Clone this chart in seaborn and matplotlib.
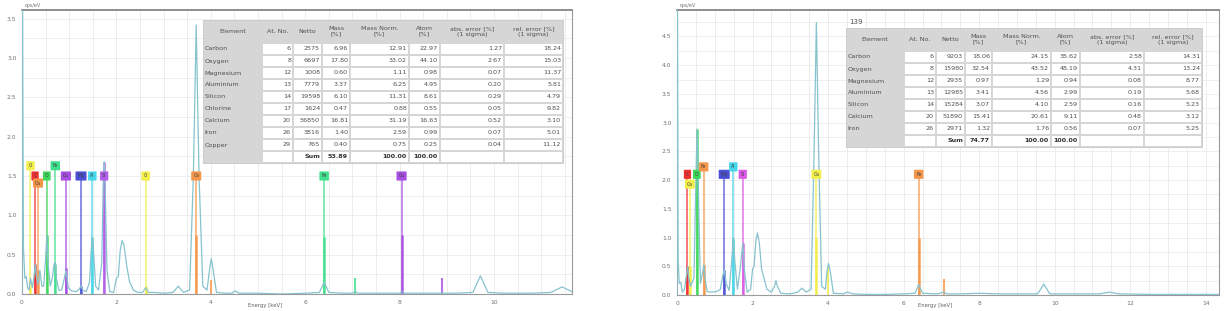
import matplotlib
matplotlib.use("Agg")
import matplotlib.pyplot as plt
import seaborn as sns
from matplotlib.patches import Rectangle
from matplotlib.ticker import MultipleLocator

# ---- spectrum 1 (left) ----
energy_left = [0, 0.01, 0.03, 0.06, 0.09, 0.12, 0.15, 0.18, 0.22, 0.26, 0.28, 0.30, 0.34, 0.38,
               0.42, 0.46, 0.50, 0.525, 0.55, 0.60, 0.64, 0.68, 0.705, 0.73, 0.78, 0.84, 0.88,
               0.93, 0.98, 1.05, 1.15, 1.21, 1.25, 1.29, 1.36, 1.43, 1.47, 1.49, 1.51, 1.56,
               1.62, 1.69, 1.72, 1.74, 1.76, 1.80, 1.86, 1.94, 2.00, 2.04, 2.08, 2.12, 2.16,
               2.22, 2.28, 2.36, 2.45, 2.55, 2.62, 2.68, 2.8, 3.0, 3.2, 3.31, 3.42, 3.55, 3.63,
               3.69, 3.75, 3.83, 3.92, 3.97, 4.01, 4.05, 4.12, 4.3, 4.45, 4.51, 4.6, 5.0, 5.5,
               6.0, 6.3, 6.4, 6.5, 6.8, 7.0, 7.06, 7.12, 7.5, 8.0, 8.04, 8.1, 8.5, 8.9, 9.2,
               9.55, 9.71, 9.87, 10.2, 10.8, 11.2, 11.44, 11.65]
counts_left = [0, 3.8, 0.6, 0.2, 0.22, 0.08, 0.05, 0.2, 0.08, 0.25, 0.38, 0.25, 0.12, 0.3,
               0.1, 0.1, 0.45, 0.75, 0.4, 0.1, 0.2, 0.38, 0.4, 0.2, 0.05, 0.05, 0.15,
               0.3, 0.08, 0.04, 0.03, 0.06, 0.1, 0.05, 0.03, 0.15, 0.6, 0.72, 0.6, 0.1,
               0.05, 0.4, 1.4, 1.68, 1.4, 0.3, 0.03, 0.02, 0.2, 0.22, 0.55, 0.68, 0.62,
               0.35, 0.15, 0.05, 0.02, 0.02, 0.08, 0.02, 0.02, 0.01, 0.02, 0.1, 0.02, 0.05, 1.5,
               3.42, 1.5, 0.1, 0.05, 0.3, 0.45, 0.3, 0.02, 0.01, 0.01, 0.04, 0.01, 0.01, 0.0,
               0.01, 0.02, 0.15, 0.02, 0.01, 0.01, 0.03, 0.01, 0.01, 0.01, 0.03, 0.01, 0.01, 0.01, 0.01,
               0.02, 0.23, 0.02, 0.01, 0.01, 0.02, 0.09, 0.03]

# ---- spectrum 2 (right) ----
energy_right = [0, 0.01, 0.03, 0.06, 0.1, 0.14, 0.2, 0.25, 0.28, 0.31, 0.36, 0.45, 0.5, 0.53,
                0.56, 0.62, 0.68, 0.71, 0.74, 0.8, 0.9, 1.05, 1.15, 1.2, 1.25, 1.3, 1.38, 1.45,
                1.49, 1.53, 1.6, 1.68, 1.74, 1.79, 1.86, 1.95, 2.0, 2.04, 2.09, 2.13, 2.18,
                2.24, 2.3, 2.38, 2.5, 2.58, 2.62, 2.66, 2.75, 3.0, 3.2, 3.31, 3.42, 3.55, 3.63,
                3.69, 3.75, 3.83, 3.93, 3.97, 4.01, 4.06, 4.14, 4.4, 4.51, 4.65, 5.0, 5.5, 6.0,
                6.3, 6.4, 6.5, 6.9, 7.06, 7.15, 7.5, 8.0, 8.5, 9.0, 9.55, 9.71, 9.87, 10.5,
                11.2, 11.44, 11.7, 12.5, 13.5, 14.35]
counts_right = [0, 5.5, 0.6, 0.2, 0.22, 0.05, 0.1, 0.35, 0.5, 0.3, 0.15, 0.3, 2.0, 2.89,
                2.0, 0.2, 0.4, 0.52, 0.3, 0.06, 0.05, 0.06, 0.1, 0.3, 0.44, 0.2, 0.08, 0.6,
                1.0, 0.6, 0.1, 0.5, 0.9, 0.4, 0.05, 0.1, 0.45, 0.5, 0.95, 1.08, 0.9,
                0.45, 0.3, 0.1, 0.05, 0.15, 0.25, 0.15, 0.03, 0.02, 0.05, 0.12, 0.05, 0.1, 2.5,
                4.74, 2.5, 0.15, 0.1, 0.4, 0.55, 0.4, 0.03, 0.02, 0.05, 0.02, 0.01, 0.01, 0.02,
                0.03, 0.18, 0.03, 0.02, 0.05, 0.02, 0.02, 0.03, 0.02, 0.02, 0.02, 0.19, 0.02, 0.02,
                0.02, 0.05, 0.02, 0.01, 0.01, 0.01]

# ---- element markers: energy, symbol, colour, label height, bar height ----
marks_left_energy = [0.18, 0.277, 0.34, 0.525, 0.705, 0.93, 1.25, 1.49, 1.74, 2.62, 3.69, 6.40, 8.04]
marks_left_label = ["Cl", "C", "Ca", "O", "Fe", "Cu", "Mg", "Al", "Si", "Cl", "Ca", "Fe", "Cu"]
marks_left_color = ["#f2ee4c", "#ef3030", "#f5974a", "#3ed85a", "#40e08c", "#a64fe0", "#4b4fd6",
                    "#45d6ea", "#b25ee8", "#f2ee4c", "#f5974a", "#40e08c", "#a64fe0"]
marks_left_level = [1.63, 1.5, 1.41, 1.5, 1.63, 1.5, 1.5, 1.5, 1.5, 1.5, 1.5, 1.5, 1.5]
marks_left_bar = [0.1, 0.38, 0.3, 0.75, 0.38, 0.33, 0.1, 0.72, 1.68, 0.1, 0.75, 0.72, 0.75]
kbeta_left_energy = [4.01, 7.06, 8.90]
kbeta_left_color = ["#f5974a", "#40e08c", "#a64fe0"]
kbeta_left_bar = [0.18, 0.2, 0.2]

marks_right_energy = [0.277, 0.34, 0.525, 0.705, 1.25, 1.49, 1.74, 3.69, 6.40]
marks_right_label = ["C", "Ca", "O", "Fe", "Mg", "Al", "Si", "Ca", "Fe"]
marks_right_color = ["#ef3030", "#f2ee4c", "#3ed85a", "#f5974a", "#4b4fd6", "#45d6ea",
                     "#d95ae8", "#f2ee4c", "#f5974a"]
marks_right_level = [2.1, 1.93, 2.1, 2.23, 2.1, 2.23, 2.1, 2.1, 2.1]
marks_right_bar = [0.5, 0.5, 2.89, 0.52, 0.44, 1.0, 0.9, 1.0, 1.0]
kbeta_right_energy = [4.01, 7.06]
kbeta_right_color = ["#f2ee4c", "#f5974a"]
kbeta_right_bar = [0.5, 0.28]

# ---- quantification tables ----
headers = ["Element", "At. No.", "Netto", "Mass\n[%]", "Mass Norm.\n[%]", "Atom\n[%]",
           "abs. error [%]\n(1 sigma)", "rel. error [%]\n(1 sigma)"]
elements_left = ["Carbon", "Oxygen", "Magnesium", "Aluminium", "Silicon", "Chlorine",
                 "Calcium", "Iron", "Copper"]
atno_left = ["6", "8", "12", "13", "14", "17", "20", "26", "29"]
netto_left = ["2575", "6697", "1008", "7779", "19598", "1624", "56850", "3816", "765"]
mass_left = ["6.96", "17.80", "0.60", "3.37", "6.10", "0.47", "16.81", "1.40", "0.40"]
massnorm_left = ["12.91", "33.02", "1.11", "6.25", "11.31", "0.88", "31.19", "2.59", "0.75"]
atom_left = ["22.97", "44.10", "0.98", "4.95", "8.61", "0.55", "16.63", "0.99", "0.25"]
abserr_left = ["1.27", "2.67", "0.07", "0.20", "0.29", "0.05", "0.52", "0.07", "0.04"]
relerr_left = ["18.24", "15.03", "11.37", "5.81", "4.79", "9.82", "3.10", "5.01", "11.12"]
sum_left = ["53.89", "100.00", "100.00"]

elements_right = ["Carbon", "Oxygen", "Magnesium", "Aluminium", "Silicon", "Calcium", "Iron"]
atno_right = ["6", "8", "12", "13", "14", "20", "26"]
netto_right = ["9203", "15980", "2935", "12985", "15284", "51890", "2971"]
mass_right = ["18.06", "32.54", "0.97", "3.41", "3.07", "15.41", "1.32"]
massnorm_right = ["24.15", "43.52", "1.29", "4.56", "4.10", "20.61", "1.76"]
atom_right = ["35.62", "48.19", "0.94", "2.99", "2.59", "9.11", "0.56"]
abserr_right = ["2.58", "4.31", "0.08", "0.19", "0.16", "0.48", "0.07"]
relerr_right = ["14.31", "13.24", "8.77", "5.68", "5.23", "3.12", "5.25"]
sum_right = ["74.77", "100.00", "100.00"]

W, H = 1232, 311
SPEC = "#86c3cd"
TXT = "#505050"

sns.set_style("white")
plt.rcParams["font.family"] = ["DejaVu Sans"]
fig = plt.figure(figsize=(W / 100, H / 100), dpi=100)


def px_axes(x0, x1, y0, y1):
    # pixel box -> figure fraction
    return [x0 / W, 1 - y1 / H, (x1 - x0) / W, (y1 - y0) / H]


def draw_spectrum(ax, energy, counts, xmax, ymax, xmajor,
                  m_e, m_lab, m_col, m_lev, m_bar, b_e, b_col, b_bar):
    ax.set_xlim(0, xmax)
    ax.set_ylim(0, ymax)
    ax.xaxis.set_major_locator(MultipleLocator(xmajor))
    ax.xaxis.set_minor_locator(MultipleLocator(0.5))
    ax.yaxis.set_major_locator(MultipleLocator(0.5))
    ax.yaxis.set_minor_locator(MultipleLocator(0.1))
    ax.grid(False)
    # light grid: 0.5 keV columns, 0.25 cps/eV rows
    for xv in [i * 0.5 for i in range(int(xmax / 0.5) + 1)]:
        ax.axvline(xv, color="#e8e8e8", lw=0.55, zorder=0)
    for yv in [i * 0.25 for i in range(int(ymax / 0.25) + 1)]:
        ax.axhline(yv, color="#ebebeb", lw=0.55, zorder=0)
    ax.tick_params(axis="both", which="major", labelsize=4.3, length=2.5, width=0.5,
                   colors="#707070", pad=1.5)
    ax.tick_params(axis="both", which="minor", length=1.3, width=0.4, colors="#909090")
    ax.yaxis.set_major_formatter(matplotlib.ticker.FormatStrFormatter("%.1f"))
    for s in ax.spines.values():
        s.set_color("#9a9a9a")
        s.set_linewidth(0.8)
    ax.spines["top"].set_color("#7a7a7a")
    ax.spines["top"].set_linewidth(1.2)

    # marker lines up to the labels
    ax.vlines(m_e, 0, m_lev, colors=m_col, lw=1.3, alpha=0.7, zorder=2)
    ax.vlines(m_e, 0, m_bar, colors=m_col, lw=1.8, alpha=0.9, zorder=2)
    ax.vlines(b_e, 0, b_bar, colors=b_col, lw=1.5, alpha=0.8, zorder=2)

    sns.lineplot(x=energy, y=counts, ax=ax, color=SPEC, lw=0.9, sort=False,
                 estimator=None, zorder=3)

    for e, lab, c, lev in zip(m_e, m_lab, m_col, m_lev):
        ax.text(e, lev, lab, fontsize=3.3, color="#404040", ha="center", va="center",
                zorder=5,
                bbox=dict(boxstyle="round,pad=0.45,rounding_size=0.15", fc=c, ec="none"))

    ax.set_xlabel("")
    ax.set_ylabel("")


ax1 = fig.add_axes(px_axes(22, 572, 10, 294))
draw_spectrum(ax1, energy_left, counts_left, 11.65, 3.61, 2,
              marks_left_energy, marks_left_label, marks_left_color, marks_left_level,
              marks_left_bar, kbeta_left_energy, kbeta_left_color, kbeta_left_bar)

ax2 = fig.add_axes(px_axes(677, 1219, 10, 295))
draw_spectrum(ax2, energy_right, counts_right, 14.35, 4.96, 2,
              marks_right_energy, marks_right_label, marks_right_color, marks_right_level,
              marks_right_bar, kbeta_right_energy, kbeta_right_color, kbeta_right_bar)

# overlay in pixel coordinates for tables and loose text
ov = fig.add_axes([0, 0, 1, 1])
ov.set_xlim(0, W)
ov.set_ylim(H, 0)
ov.axis("off")
ov.patch.set_alpha(0)

ov.text(25, 5, "cps/eV", fontsize=3.5, color="#707070", va="center")
ov.text(680, 5, "cps/eV", fontsize=3.5, color="#707070", va="center")
ov.text(265, 306, "Energy [keV]", fontsize=3.8, color="#606060", ha="center", va="center")
ov.text(935, 306, "Energy [keV]", fontsize=3.8, color="#606060", ha="center", va="center")


def draw_table(cols, top, head_h, row_h, columns, sums):
    n = len(columns[0])
    bottom = top + head_h + row_h * (n + 1)
    ov.add_patch(Rectangle((cols[0], top), cols[-1] - cols[0], bottom - top,
                           fc="#d6d6d6", ec="#c8c8c8", lw=0.6, zorder=1))
    # header
    for j, h in enumerate(headers):
        xc = (cols[j] + cols[j + 1]) / 2
        ov.text(xc, top + head_h / 2, h, fontsize=4.6, color=TXT, ha="center",
                va="center", linespacing=1.15, zorder=3)
    # body cells
    for i in range(n + 1):
        y0 = top + head_h + i * row_h
        for j in range(1, len(cols) - 1):
            ov.add_patch(Rectangle((cols[j] + 0.7, y0 + 0.7), cols[j + 1] - cols[j] - 1.4,
                                   row_h - 1.4, fc="white", ec="none", zorder=2))
        if i < n:
            ov.text(cols[0] + 1.5, y0 + row_h / 2, columns[0][i], fontsize=4.6, color=TXT,
                    ha="left", va="center", zorder=3)
            for j in range(1, len(columns)):
                ov.text(cols[j + 1] - 2, y0 + row_h / 2, columns[j][i], fontsize=4.6,
                        color=TXT, ha="right", va="center", zorder=3)
        else:
            ov.text(cols[3] - 2, y0 + row_h / 2, "Sum", fontsize=4.6, color="#303030",
                    ha="right", va="center", fontweight="bold", zorder=3)
            for k, s in enumerate(sums):
                ov.text(cols[4 + k] - 2, y0 + row_h / 2, s, fontsize=4.6, color="#303030",
                        ha="right", va="center", fontweight="bold", zorder=3)


draw_table([203, 262, 293, 322, 350, 409, 440, 504, 563], 20, 23, 12,
           [elements_left, atno_left, netto_left, mass_left, massnorm_left, atom_left,
            abserr_left, relerr_left], sum_left)
draw_table([846, 904, 936, 965, 992, 1051, 1080, 1144, 1202], 28, 23, 12,
           [elements_right, atno_right, netto_right, mass_right, massnorm_right, atom_right,
            abserr_right, relerr_right], sum_right)
ov.text(849, 22, "139", fontsize=5, color=TXT, ha="left", va="center")

fig.savefig("out.png", dpi=100)
